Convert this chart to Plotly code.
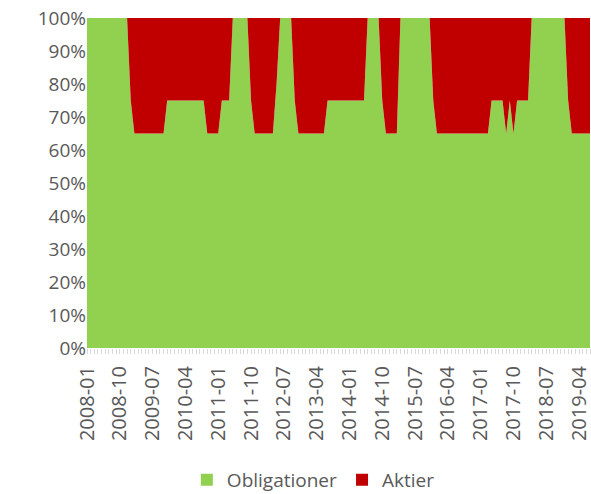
import plotly.graph_objects as go

# Monthly categories 2008-01 .. 2019-07
months = [f"{y}-{m:02d}" for y in range(2008, 2020) for m in range(1, 13)][:139]

# Obligationer share (%)
obligationer = (
    [100] * 12 +            # 2008-01 .. 2008-12
    [75] +                  # 2009-01
    [65] * 9 +              # 2009-02 .. 2009-10
    [75] * 11 +             # 2009-11 .. 2010-09
    [65] * 4 +              # 2010-10 .. 2011-01
    [75] * 3 +              # 2011-02 .. 2011-04
    [100] * 5 +             # 2011-05 .. 2011-09
    [75] +                  # 2011-10
    [65] * 6 +              # 2011-11 .. 2012-04
    [80] +                  # 2012-05
    [100] * 4 +             # 2012-06 .. 2012-09
    [75] +                  # 2012-10
    [65] * 8 +              # 2012-11 .. 2013-06
    [75] * 11 +             # 2013-07 .. 2014-05
    [100] * 4 +             # 2014-06 .. 2014-09
    [75] +                  # 2014-10
    [65] * 4 +              # 2014-11 .. 2015-02
    [100] * 9 +             # 2015-03 .. 2015-11
    [75] +                  # 2015-12
    [65] * 15 +             # 2016-01 .. 2017-03
    [75] * 4 +              # 2017-04 .. 2017-07
    [65] +                  # 2017-08
    [75] +                  # 2017-09
    [65] +                  # 2017-10
    [75] * 4 +              # 2017-11 .. 2018-02
    [100] * 10 +            # 2018-03 .. 2018-12
    [75] +                  # 2019-01
    [65] * 6                # 2019-02 .. 2019-07
)
aktier = [100 - v for v in obligationer]

y_ticks = list(range(0, 101, 10))
y_labels = [f"{v}%" for v in y_ticks]

GREEN = "#92D050"
RED = "#C00000"
TEXT = "#595959"
FONT = "Open Sans"

xs = list(range(len(months)))

fig = go.Figure()
fig.add_trace(go.Scatter(
    x=xs, y=obligationer, name="Obligationer",
    stackgroup="one", mode="lines", line=dict(width=0, color=GREEN),
    fillcolor=GREEN, showlegend=False, hoverinfo="skip",
))
fig.add_trace(go.Scatter(
    x=xs, y=aktier, name="Aktier",
    stackgroup="one", mode="lines", line=dict(width=0, color=RED),
    fillcolor=RED, showlegend=False, hoverinfo="skip",
))
# legend entries with square swatches
for name, col in [("Obligationer", GREEN), ("Aktier", RED)]:
    fig.add_trace(go.Scatter(
        x=[None], y=[None], name=name, mode="markers",
        marker=dict(symbol="square", size=13, color=col),
    ))

tickvals = xs
ticktext = [m if i % 9 == 0 else "" for i, m in enumerate(months)]

fig.update_layout(
    width=591, height=494,
    margin=dict(l=87, r=1, t=18, b=146, autoexpand=False),
    paper_bgcolor="white", plot_bgcolor="white",
    font=dict(family=FONT, size=19, color=TEXT),
    showlegend=True,
    legend=dict(orientation="h", x=0.45, xanchor="center", y=-0.4, yanchor="middle",
                traceorder="normal", font=dict(size=19, color=TEXT),
                itemsizing="constant", itemwidth=30,
                bgcolor="rgba(0,0,0,0)", tracegroupgap=0),
    xaxis=dict(
        range=[0, len(months) - 1], automargin=False,
        tickmode="array", tickvals=tickvals, ticktext=ticktext,
        tickangle=-90, ticks="outside", ticklen=5, tickcolor="#D9D9D9", tickwidth=1,
        ticklabelstandoff=4,
        showgrid=False, zeroline=False, showline=False,
        tickfont=dict(size=20, color=TEXT),
        ticklabeloverflow="allow",
    ),
    yaxis=dict(
        range=[0, 100], tickmode="array", tickvals=y_ticks, ticktext=y_labels,
        automargin=False,
        showgrid=True, gridcolor="#D9D9D9", zeroline=False,
        showline=False, ticks="", tickfont=dict(size=19, color=TEXT),
    ),
)

fig.write_html("out.html", config={"displayModeBar": False},
               post_script="document.body.style.margin='0';")
